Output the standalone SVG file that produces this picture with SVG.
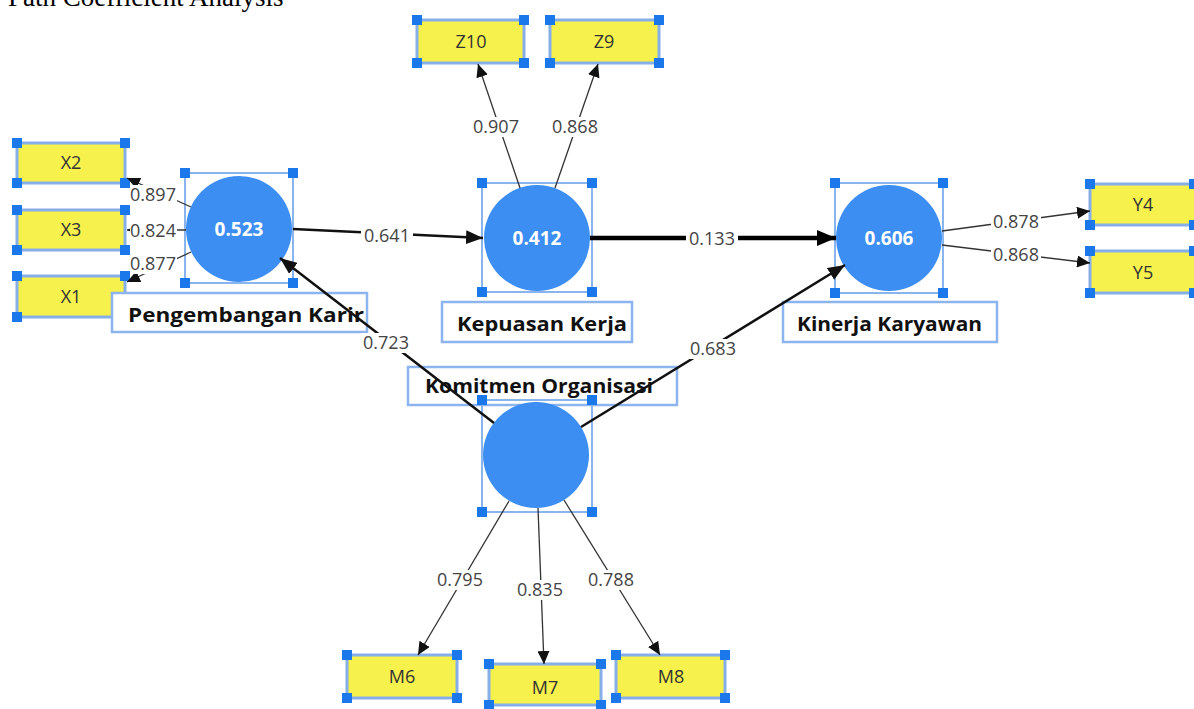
<svg xmlns="http://www.w3.org/2000/svg" width="1194" height="709" viewBox="0 0 1194 709">
<defs>
<style>
.title{font-family:"Liberation Serif","Times New Roman",serif;font-size:27px;fill:#000}
.ind{fill:#f7f14e;stroke:#86aee8;stroke-width:3}
.sel{fill:none;stroke:#8ab4ee;stroke-width:2}
.h{fill:#1a78ea}
.lv{fill:#3c8ef2}
.lvt{font-family:"Open Sans","Noto Sans",sans-serif;font-size:19px;font-weight:bold;fill:#fff;text-anchor:middle}
.it{font-family:"Open Sans","Noto Sans",sans-serif;font-size:18px;fill:#333;text-anchor:middle}
.lb{fill:#fff;stroke:#8cb4ee;stroke-width:2.5}
.lbt{font-family:"Open Sans","Noto Sans",sans-serif;font-size:20px;font-weight:bold;fill:#111}
.ld{stroke:#333;stroke-width:1.3;fill:none}
.pc{stroke:#111;stroke-width:2.5;fill:none}
.pct{stroke:#000;stroke-width:4.5;fill:none}
.bg{fill:#fff}
.num{font-family:"Open Sans","Noto Sans",sans-serif;font-size:18px;fill:#444;text-anchor:middle}
</style>
<marker id="aS" markerUnits="userSpaceOnUse" markerWidth="14" markerHeight="12" refX="13" refY="6" orient="auto"><path d="M0,0 L13,6 L0,12 z" fill="#111"/></marker>
<marker id="aM" markerUnits="userSpaceOnUse" markerWidth="18" markerHeight="14" refX="17" refY="7" orient="auto"><path d="M0,0 L17,7 L0,14 z" fill="#111"/></marker>
<marker id="aL" markerUnits="userSpaceOnUse" markerWidth="20" markerHeight="16" refX="19" refY="8" orient="auto"><path d="M0,0 L19,8 L0,16 z" fill="#000"/></marker>
</defs>
<rect width="1194" height="709" fill="#fff"/>
<text class="title" x="8" y="6">Path Coefficient Analysis</text>

<!-- Indicator nodes -->
<g id="X2"><rect class="ind" x="17" y="143" width="108" height="40"/><text class="it" x="71" y="169">X2</text>
<rect class="h" x="12" y="138" width="10" height="10"/><rect class="h" x="120" y="138" width="10" height="10"/><rect class="h" x="12" y="178" width="10" height="10"/><rect class="h" x="120" y="178" width="10" height="10"/></g>
<g id="X3"><rect class="ind" x="17" y="210" width="108" height="40"/><text class="it" x="71" y="236">X3</text>
<rect class="h" x="12" y="205" width="10" height="10"/><rect class="h" x="120" y="205" width="10" height="10"/><rect class="h" x="12" y="245" width="10" height="10"/><rect class="h" x="120" y="245" width="10" height="10"/></g>
<g id="X1"><rect class="ind" x="17" y="276" width="108" height="41"/><text class="it" x="71" y="303">X1</text>
<rect class="h" x="12" y="271" width="10" height="10"/><rect class="h" x="120" y="271" width="10" height="10"/><rect class="h" x="12" y="312" width="10" height="10"/><rect class="h" x="120" y="312" width="10" height="10"/></g>
<g id="Z10"><rect class="ind" x="417" y="20" width="107" height="43"/><text class="it" x="471" y="48">Z10</text>
<rect class="h" x="412" y="15" width="10" height="10"/><rect class="h" x="519" y="15" width="10" height="10"/><rect class="h" x="412" y="58" width="10" height="10"/><rect class="h" x="519" y="58" width="10" height="10"/></g>
<g id="Z9"><rect class="ind" x="550" y="20" width="109" height="43"/><text class="it" x="604" y="48">Z9</text>
<rect class="h" x="545" y="15" width="10" height="10"/><rect class="h" x="654" y="15" width="10" height="10"/><rect class="h" x="545" y="58" width="10" height="10"/><rect class="h" x="654" y="58" width="10" height="10"/></g>
<g id="Y4"><rect class="ind" x="1090" y="184" width="108" height="41"/><text class="it" x="1143" y="211">Y4</text>
<rect class="h" x="1085" y="179" width="10" height="10"/><rect class="h" x="1189" y="179" width="10" height="10"/><rect class="h" x="1085" y="220" width="10" height="10"/><rect class="h" x="1189" y="220" width="10" height="10"/></g>
<g id="Y5"><rect class="ind" x="1090" y="251" width="108" height="42"/><text class="it" x="1143" y="279">Y5</text>
<rect class="h" x="1085" y="246" width="10" height="10"/><rect class="h" x="1189" y="246" width="10" height="10"/><rect class="h" x="1085" y="288" width="10" height="10"/><rect class="h" x="1189" y="288" width="10" height="10"/></g>
<g id="M6"><rect class="ind" x="347" y="655" width="110" height="43"/><text class="it" x="402" y="683">M6</text>
<rect class="h" x="342" y="650" width="10" height="10"/><rect class="h" x="452" y="650" width="10" height="10"/><rect class="h" x="342" y="693" width="10" height="10"/><rect class="h" x="452" y="693" width="10" height="10"/></g>
<g id="M7"><rect class="ind" x="489" y="664" width="112" height="41"/><text class="it" x="545" y="694">M7</text>
<rect class="h" x="484" y="659" width="10" height="10"/><rect class="h" x="596" y="659" width="10" height="10"/><rect class="h" x="484" y="700" width="10" height="10"/><rect class="h" x="596" y="700" width="10" height="10"/></g>
<g id="M8"><rect class="ind" x="616" y="655" width="109" height="43"/><text class="it" x="671" y="683">M8</text>
<rect class="h" x="611" y="650" width="10" height="10"/><rect class="h" x="720" y="650" width="10" height="10"/><rect class="h" x="611" y="693" width="10" height="10"/><rect class="h" x="720" y="693" width="10" height="10"/></g>

<!-- Latent nodes -->
<g id="PengembanganKarir">
<rect class="sel" x="185" y="173" width="108" height="110"/>
<circle class="lv" cx="239" cy="229" r="53"/>
<text class="lvt" x="239" y="236">0.523</text>
<rect class="h" x="180" y="168" width="10" height="10"/><rect class="h" x="288" y="168" width="10" height="10"/><rect class="h" x="180" y="278" width="10" height="10"/><rect class="h" x="288" y="278" width="10" height="10"/>
<rect class="lb" x="112" y="293" width="255" height="39"/>
<text class="lbt" x="128" y="322" textLength="236" lengthAdjust="spacingAndGlyphs">Pengembangan Karir</text>
</g>
<g id="KepuasanKerja">
<rect class="sel" x="482" y="183" width="110" height="109"/>
<circle class="lv" cx="537" cy="238" r="53"/>
<text class="lvt" x="537" y="245">0.412</text>
<rect class="h" x="477" y="178" width="10" height="10"/><rect class="h" x="587" y="178" width="10" height="10"/><rect class="h" x="477" y="287" width="10" height="10"/><rect class="h" x="587" y="287" width="10" height="10"/>
<rect class="lb" x="442" y="302" width="190" height="40"/>
<text class="lbt" x="457" y="331" textLength="170" lengthAdjust="spacingAndGlyphs">Kepuasan Kerja</text>
</g>
<g id="KinerjaKaryawan">
<rect class="sel" x="835" y="183" width="108" height="110"/>
<circle class="lv" cx="889" cy="238" r="53"/>
<text class="lvt" x="889" y="245">0.606</text>
<rect class="h" x="830" y="178" width="10" height="10"/><rect class="h" x="938" y="178" width="10" height="10"/><rect class="h" x="830" y="288" width="10" height="10"/><rect class="h" x="938" y="288" width="10" height="10"/>
<rect class="lb" x="783" y="302" width="214" height="40"/>
<text class="lbt" x="797" y="331" textLength="185" lengthAdjust="spacingAndGlyphs">Kinerja Karyawan</text>
</g>
<g id="KomitmenOrganisasi">
<rect class="lb" x="408" y="367" width="269" height="38"/>
<text class="lbt" x="425" y="393" textLength="228" lengthAdjust="spacingAndGlyphs">Komitmen Organisasi</text>
<rect class="sel" x="482" y="400" width="110" height="112"/>
<circle class="lv" cx="536" cy="455" r="53"/>
<rect class="h" x="477" y="395" width="10" height="10"/><rect class="h" x="587" y="395" width="10" height="10"/><rect class="h" x="477" y="507" width="10" height="10"/><rect class="h" x="587" y="507" width="10" height="10"/>
</g>

<!-- Connectors -->
<g id="connectors">
<line class="ld" x1="191" y1="207" x2="127" y2="178" marker-end="url(#aS)"/>
<line class="ld" x1="186" y1="230" x2="127" y2="230" marker-end="url(#aS)"/>
<line class="ld" x1="191" y1="252" x2="127" y2="282" marker-end="url(#aS)"/>
<line class="ld" x1="520" y1="188" x2="478" y2="64" marker-end="url(#aS)"/>
<line class="ld" x1="555" y1="188" x2="598" y2="64" marker-end="url(#aS)"/>
<line class="ld" x1="942" y1="231" x2="1090" y2="211" marker-end="url(#aS)"/>
<line class="ld" x1="942" y1="245" x2="1090" y2="263" marker-end="url(#aS)"/>
<line class="ld" x1="509" y1="501" x2="418" y2="655" marker-end="url(#aS)"/>
<line class="ld" x1="538" y1="508" x2="544" y2="664" marker-end="url(#aS)"/>
<line class="ld" x1="564" y1="500" x2="660" y2="655" marker-end="url(#aS)"/>
<line class="pc" x1="293" y1="229" x2="483" y2="238" marker-end="url(#aM)"/>
<line class="pct" x1="590" y1="238" x2="836" y2="238" marker-end="url(#aL)"/>
<line class="pc" x1="494" y1="423" x2="280" y2="258" marker-end="url(#aM)"/>
<line class="pc" x1="581" y1="427" x2="845" y2="265" marker-end="url(#aM)"/>
<rect class="bg" x="130" y="185" width="47" height="20"/><text class="num" x="153" y="201">0.897</text>
<rect class="bg" x="130" y="221" width="47" height="20"/><text class="num" x="153" y="237">0.824</text>
<rect class="bg" x="130" y="254" width="47" height="20"/><text class="num" x="153" y="270">0.877</text>
<rect class="bg" x="471" y="117" width="50" height="20"/><text class="num" x="496" y="133">0.907</text>
<rect class="bg" x="550" y="117" width="50" height="20"/><text class="num" x="575" y="133">0.868</text>
<rect class="bg" x="991" y="212" width="50" height="20"/><text class="num" x="1016" y="228">0.878</text>
<rect class="bg" x="991" y="245" width="50" height="20"/><text class="num" x="1016" y="261">0.868</text>
<rect class="bg" x="435" y="570" width="50" height="20"/><text class="num" x="460" y="586">0.795</text>
<rect class="bg" x="515" y="580" width="50" height="20"/><text class="num" x="540" y="596">0.835</text>
<rect class="bg" x="586" y="570" width="50" height="20"/><text class="num" x="611" y="586">0.788</text>
<rect class="bg" x="361" y="226" width="52" height="20"/><text class="num" x="387" y="242">0.641</text>
<rect class="bg" x="686" y="229" width="52" height="20"/><text class="num" x="712" y="245">0.133</text>
<rect class="bg" x="361" y="333" width="50" height="20"/><text class="num" x="386" y="349">0.723</text>
<rect class="bg" x="688" y="339" width="50" height="20"/><text class="num" x="713" y="355">0.683</text>
</g>
</svg>
